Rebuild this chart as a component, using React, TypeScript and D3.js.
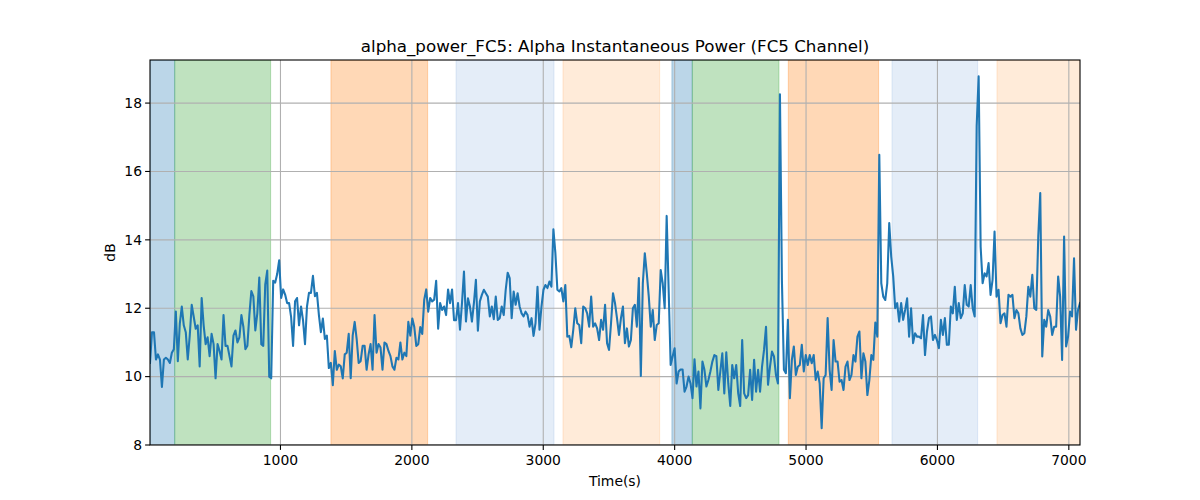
import React from "react";
import * as d3 from "d3";

const TITLE = "alpha_power_FC5: Alpha Instantaneous Power (FC5 Channel)";
const X_LABEL = "Time(s)";
const Y_LABEL = "dB";
const T_START = 7;
const T_END = 7085;
const Y_MIN = 8;
const Y_MAX = 19.26;
const X_TICKS = [1000, 2000, 3000, 4000, 5000, 6000, 7000];
const Y_TICKS = [8, 10, 12, 14, 16, 18];

// shaded phases: [start, end, kind]
const SPAN_STARTS = [7, 195, 1384, 2336, 3150, 3979, 4134, 4865, 5654, 6453];
const SPAN_ENDS = [195, 925, 2120, 3082, 3886, 4134, 4794, 5552, 6306, 7085];
const SPAN_KINDS = ["blue", "green", "orange", "lightblue", "lightorange", "blue", "green", "orange", "lightblue", "lightorange"];
const SPAN_COLORS: Record<string, [string, number]> = {
  blue: ["#1f77b4", 0.3],
  green: ["#2ca02c", 0.3],
  orange: ["#ff7f0e", 0.3],
  lightblue: ["#5a8fd6", 0.16],
  lightorange: ["#ff8a1e", 0.17],
};

const VALUES_A = [
  10.4, 11.3, 11.3, 10.5, 10.65, 10.5, 9.7, 10.5, 10.55, 10.5,
  10.4, 10.7, 10.8, 11.9, 10.45, 11.55, 12.05, 11.5, 11.3, 10.5,
  11.2, 12.1, 11.75, 11.4, 11.5, 10.3, 12.3, 11.5, 10.95, 11.15,
  10.6, 11.25, 10.95, 9.95, 10.95, 10.75, 10.5, 11.8, 10.9, 10.9,
  10.6, 10.3, 11.2, 11.35, 11.0, 11.15, 11.8, 11.45, 10.8, 10.9,
  11.8, 12.5, 12.35, 11.35, 11.85, 12.9, 10.95, 10.9, 12.7, 13.1,
  10.0, 9.95, 12.8, 12.75, 13.0, 13.4, 12.3, 12.55, 12.4, 12.15,
  12.15, 11.75, 10.9, 12.2, 12.3, 11.5, 12.05, 11.65, 10.95, 12.05,
  12.45, 12.45, 12.95, 12.35, 12.45, 11.8, 11.3, 11.7, 11.1, 11.2,
  10.25, 10.4, 9.75, 10.75, 10.2, 10.35, 10.3, 9.95, 10.65, 10.7,
  11.25, 9.95, 11.2, 11.6, 11.1, 10.4, 10.45, 10.9, 10.9, 10.2,
  10.65, 10.95, 10.2, 11.8, 10.7, 10.95, 10.85, 10.2, 11.0, 10.95,
  10.75, 10.6, 10.3, 10.2, 10.55, 10.5, 11.0, 10.5, 10.7, 10.6,
  11.6, 11.2, 11.7, 11.45, 10.9, 10.95, 11.45, 11.25, 12.25, 12.55,
  11.9, 12.3, 12.2, 12.25, 12.8, 11.4, 12.15, 11.95, 12.05, 11.8,
  12.55, 12.15, 12.55, 11.65, 11.65,
];

const VALUES_B = [
  12.15, 11.37, 12.15, 13.07, 11.61, 12.29, 12.05, 11.61, 12.15, 12.83,
  11.34, 12.2, 12.39, 12.54, 12.44, 12.34, 11.76, 12.05, 11.68, 12.34,
  11.66, 11.71, 12.05, 11.8, 12.54, 13.04, 12.88, 11.71, 12.49, 12.1,
  12.44, 12.05, 11.85, 11.76, 11.9, 11.8, 11.46, 11.71, 11.19, 11.56,
  12.63, 11.37, 12.05, 12.54, 12.68, 12.59, 12.78, 12.63, 14.31, 13.61,
  12.54, 12.49, 12.59, 12.2, 12.68, 11.17, 11.19, 10.86, 11.37, 12.0,
  11.56, 11.51, 10.98, 12.05, 12.0, 11.85, 11.46, 12.34, 11.46, 11.56,
  11.41, 11.07, 11.66, 11.37, 12.1, 10.98, 10.78, 11.56, 12.44, 12.15,
  11.71, 11.22, 11.71, 12.05, 10.98, 11.41, 10.88, 11.07, 12.0, 12.1,
  11.46, 12.88, 10.02, 12.73, 13.61, 13.02, 12.34, 11.46, 11.95, 11.07,
  11.51, 11.56, 13.12, 12.73, 12.0, 14.7, 12.54, 10.34, 10.59, 10.83,
  9.8, 10.15, 10.21, 10.21, 9.56, 9.71, 10.0, 9.8, 9.37, 10.51,
  9.71, 10.15, 9.07, 10.44, 10.2, 9.71, 9.9, 10.15, 10.44, 10.63,
  10.6, 9.61, 10.15, 10.68, 9.51, 10.71, 9.8, 9.14, 10.34, 9.95,
  10.34, 9.51, 9.14, 11.07, 9.51, 9.37, 9.46, 10.2, 9.32, 10.49,
  9.56,
];

const VALUES_C = [
  10.2, 9.56, 10.29, 10.78, 11.46, 9.76, 10.29, 10.73, 10.59, 10.05,
  9.8, 18.26, 12.8, 10.2, 10.1, 11.66, 9.37, 10.49, 10.88, 10.05,
  10.29, 10.34, 10.93, 10.15, 10.63, 10.34, 10.63, 10.39, 10.63, 9.9,
  10.15, 9.8, 8.49, 9.95, 10.05, 11.71, 10.2, 9.61, 11.07, 10.44,
  10.44, 9.85, 9.9, 9.61, 10.29, 10.44, 9.9, 10.05, 10.63, 10.44,
  11.17, 11.32, 9.95, 10.68, 10.44, 9.46, 9.9, 10.63, 10.49, 11.58,
  11.17, 16.49, 12.73, 12.34, 12.24, 12.73, 14.49, 13.51, 12.93, 12.0,
  12.15, 11.61, 12.15, 11.66, 11.95, 12.29, 11.17, 12.0, 10.98, 11.27,
  11.17, 11.17, 11.12, 11.8, 10.63, 11.32, 11.71, 11.76, 11.07, 11.22,
  11.07, 10.83, 11.66, 11.22, 11.71, 10.93, 10.93, 12.05, 11.85, 12.63,
  11.66, 12.15, 11.71, 11.85, 12.68, 12.1, 12.05, 12.68, 12.0, 11.76,
  17.32, 18.78, 13.8, 12.73, 13.02, 12.93, 13.32, 12.39, 12.83, 14.24,
  12.34, 12.54, 11.56, 11.8, 11.85, 11.46, 12.39, 12.34, 12.39, 11.71,
  11.95, 11.85, 11.41, 11.22, 11.27, 11.76, 12.63, 12.34, 12.98, 12.0,
  11.95, 14.1, 15.37, 10.59, 11.66, 11.46, 11.95, 11.76, 11.22, 11.46,
  11.46, 12.93, 12.34, 10.49, 14.1, 10.88, 11.17, 11.9, 11.76, 13.46,
  11.37, 11.95, 12.15,
];

const VALUES = [...VALUES_A, ...VALUES_B, ...VALUES_C];

const W = 1200;
const H = 500;
const L = 150;
const R = 1080;
const T = 60;
const B = 445;
const FONT = "DejaVu Sans, sans-serif";

export default function App() {
  const x = d3.scaleLinear().domain([T_START, T_END]).range([L, R]);
  const y = d3.scaleLinear().domain([Y_MIN, Y_MAX]).range([B, T]);
  const n = VALUES.length;
  const time = d3.scaleLinear().domain([0, n - 1]).range([T_START, T_END]);
  const pts: [number, number][] = VALUES.map((v, i) => [time(i), v]);
  const line = d3
    .line<[number, number]>()
    .x((d) => x(d[0]))
    .y((d) => y(d[1]));

  return (
    <svg
      width={W}
      height={H}
      style={{ position: "absolute", left: 0, top: 0, background: "#fff" }}
      fontFamily={FONT}
    >
      <rect x={0} y={0} width={W} height={H} fill="#fff" />
      <defs>
        <clipPath id="plot">
          <rect x={L} y={T} width={R - L} height={B - T} />
        </clipPath>
      </defs>
      <g clipPath="url(#plot)">
        {SPAN_STARTS.map((s, i) => {
          const [c, a] = SPAN_COLORS[SPAN_KINDS[i]];
          return (
            <rect
              key={i}
              x={x(s)}
              y={T}
              width={x(SPAN_ENDS[i]) - x(s)}
              height={B - T}
              fill={c}
              fillOpacity={a}
              stroke={c}
              strokeOpacity={a}
              strokeWidth={1}
            />
          );
        })}
        {X_TICKS.map((t) => (
          <line key={"gx" + t} x1={x(t)} x2={x(t)} y1={T} y2={B} stroke="#b0b0b0" strokeWidth={1.1} />
        ))}
        {Y_TICKS.map((t) => (
          <line key={"gy" + t} x1={L} x2={R} y1={y(t)} y2={y(t)} stroke="#b0b0b0" strokeWidth={1.1} />
        ))}
        <path d={line(pts) || ""} fill="none" stroke="#1f77b4" strokeWidth={2.08} strokeLinejoin="round" strokeLinecap="square" />
      </g>
      <rect x={L} y={T} width={R - L} height={B - T} fill="none" stroke="#000" strokeWidth={1.1} />
      {X_TICKS.map((t) => (
        <g key={"tx" + t}>
          <line x1={x(t)} x2={x(t)} y1={B} y2={B + 4.9} stroke="#000" strokeWidth={1.1} />
          <text x={x(t)} y={B + 20} textAnchor="middle" fontSize={13.9} fill="#000">
            {t}
          </text>
        </g>
      ))}
      {Y_TICKS.map((t) => (
        <g key={"ty" + t}>
          <line x1={L - 4.9} x2={L} y1={y(t)} y2={y(t)} stroke="#000" strokeWidth={1.1} />
          <text x={L - 8} y={y(t)} dy="0.35em" textAnchor="end" fontSize={13.9} fill="#000">
            {t}
          </text>
        </g>
      ))}
      <text x={(L + R) / 2} y={486} textAnchor="middle" fontSize={13.9} fill="#000">
        {X_LABEL}
      </text>
      <text
        transform={`translate(115, ${(T + B) / 2}) rotate(-90)`}
        textAnchor="middle"
        fontSize={13.9}
        fill="#000"
      >
        {Y_LABEL}
      </text>
      <text x={(L + R) / 2} y={52} textAnchor="middle" fontSize={16.7} fill="#000">
        {TITLE}
      </text>
    </svg>
  );
}
